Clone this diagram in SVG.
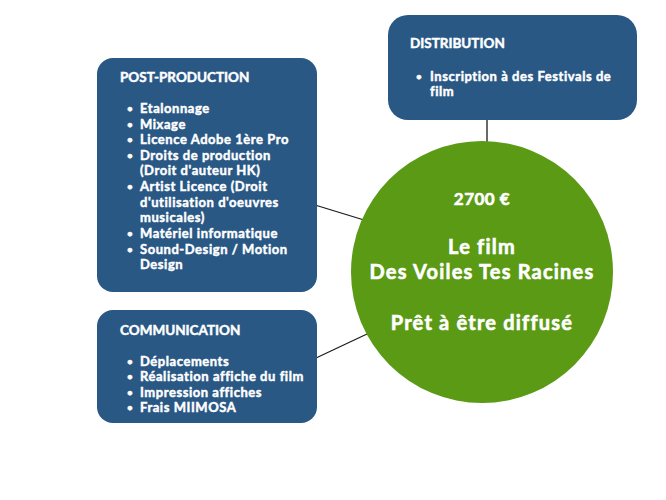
<svg xmlns="http://www.w3.org/2000/svg" width="666" height="500" viewBox="0 0 666 500">
<style>
.box{fill:#2a5885}
.t{font-family:Lato,"Open Sans","Liberation Sans",sans-serif;font-weight:bold;fill:#fff;stroke:#fff;stroke-width:0.45}
.h{font-size:13.5px}
.i{font-size:13px;letter-spacing:0.55px}
.b{font-size:10px}
.c{font-family:Lato,"Open Sans","Liberation Sans",sans-serif;font-weight:bold;fill:#fff;stroke:#fff;stroke-width:0.6;text-anchor:middle}
.big{font-size:20px;letter-spacing:1.2px}
.ln{stroke:#1a1a1a;stroke-width:1.3;fill:none}
</style>
<rect width="666" height="500" fill="#fff"/>
<g id="connectors">
<line class="ln" x1="315" y1="205" x2="364" y2="220"/>
<line class="ln" x1="316" y1="358" x2="367" y2="334"/>
<line class="ln" x1="487" y1="119" x2="487" y2="143"/>
</g>
<g id="distribution">
<rect class="box" x="388" y="15" width="249" height="105" rx="20"/>
<text class="t h" x="410" y="48">DISTRIBUTION</text>
<text class="t b" x="416" y="80">•</text>
<text class="t i" x="430" y="81">Inscription  à des Festivals de</text>
<text class="t i" x="430" y="96">film</text>
</g>
<g id="post-production">
<rect class="box" x="97" y="58" width="220" height="234" rx="16"/>
<text class="t h" x="120" y="82">POST-PRODUCTION</text>
<g class="t b">
<text x="127" y="112">•</text>
<text x="127" y="128">•</text>
<text x="127" y="143">•</text>
<text x="127" y="159">•</text>
<text x="127" y="190">•</text>
<text x="127" y="237">•</text>
<text x="127" y="253">•</text>
</g>
<g class="t i">
<text x="140" y="113">Etalonnage</text>
<text x="140" y="129">Mixage</text>
<text x="140" y="144">Licence Adobe 1ère Pro</text>
<text x="140" y="160">Droits de production</text>
<text x="140" y="175">(Droit d'auteur HK)</text>
<text x="140" y="191">Artist Licence (Droit</text>
<text x="140" y="207">d'utilisation d'oeuvres</text>
<text x="140" y="222">musicales)</text>
<text x="140" y="238">Matériel informatique</text>
<text x="140" y="254">Sound-Design / Motion</text>
<text x="140" y="269">Design</text>
</g>
</g>
<g id="communication">
<rect class="box" x="97" y="310" width="220" height="113" rx="16"/>
<text class="t h" x="120" y="335">COMMUNICATION</text>
<g class="t b">
<text x="127" y="365">•</text>
<text x="127" y="380">•</text>
<text x="127" y="396">•</text>
<text x="127" y="411">•</text>
</g>
<g class="t i">
<text x="140" y="366">Déplacements</text>
<text x="140" y="381">Réalisation affiche du film</text>
<text x="140" y="397">Impression affiches</text>
<text x="140" y="412">Frais MIIMOSA</text>
</g>
</g>
<g id="film">
<circle cx="482" cy="272" r="131" fill="#5a9a15"/>
<text class="c" x="482" y="205" font-size="17" letter-spacing="0.5">2700 €</text>
<text class="c big" x="482" y="254">Le film</text>
<text class="c big" x="482" y="279">Des Voiles Tes Racines</text>
<text class="c big" x="482" y="330">Prêt à être diffusé</text>
</g>
</svg>
